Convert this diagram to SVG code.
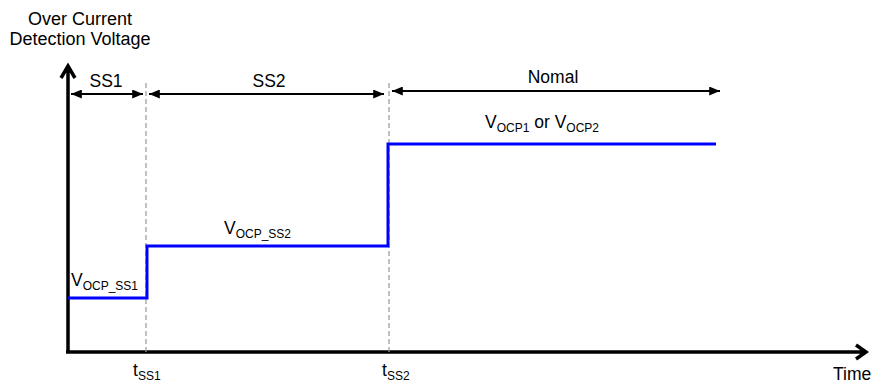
<svg xmlns="http://www.w3.org/2000/svg" width="874" height="383" viewBox="0 0 874 383">
<style>
text{font-family:"Liberation Sans",Arial,sans-serif;font-size:17.5px;fill:#000}
.sub{font-size:12px}
.ax{stroke:#000;stroke-width:3.5;fill:none}
.dash{stroke:#999;stroke-width:1.2;stroke-dasharray:5,3;fill:none}
.dim{stroke:#000;stroke-width:2;fill:none}
.sig{stroke:#0000ff;stroke-width:3;fill:none}
</style>
<defs>
<marker id="ah" viewBox="0 0 12 10" refX="12" refY="5" markerWidth="12" markerHeight="9" markerUnits="userSpaceOnUse" orient="auto-start-reverse">
<path d="M0,0 L12,5 L0,10 Z" fill="#000"/>
</marker>
</defs>
<rect width="874" height="383" fill="#fff"/>
<g id="axes">
<path class="ax" d="M68,353 V66 M61,78 L68,66 L75,78"/>
<path class="ax" d="M66,352 H866 M856,345 L866,352 L856,359"/>
</g>
<g id="guides">
<line class="dash" x1="146" y1="83" x2="146" y2="352"/>
<line class="dash" x1="389" y1="83" x2="389" y2="352"/>
</g>
<g id="connectors">
<line class="dim" x1="71" y1="94" x2="143" y2="94" marker-start="url(#ah)" marker-end="url(#ah)"/>
<line class="dim" x1="149" y1="94" x2="384" y2="94" marker-start="url(#ah)" marker-end="url(#ah)"/>
<line class="dim" x1="392" y1="91" x2="720" y2="91" marker-start="url(#ah)" marker-end="url(#ah)"/>
</g>
<g id="signal">
<path class="sig" d="M68,298 H147 V246 H388 V144 H716"/>
</g>
<g id="labels">
<text x="80" y="25" text-anchor="middle" style="font-size:18px">Over Current</text>
<text x="80" y="45" text-anchor="middle" style="font-size:18px">Detection Voltage</text>
<text x="106" y="87" text-anchor="middle">SS1</text>
<text x="269" y="87" text-anchor="middle">SS2</text>
<text x="553" y="83" text-anchor="middle">Nomal</text>
<text x="485" y="128">V<tspan class="sub" dy="4">OCP1</tspan><tspan dy="-4"> or V</tspan><tspan class="sub" dy="4">OCP2</tspan></text>
<text x="224" y="234">V<tspan class="sub" dy="4">OCP_SS2</tspan></text>
<text x="71" y="286">V<tspan class="sub" dy="4">OCP_SS1</tspan></text>
<text x="133" y="376">t<tspan class="sub" dy="4">SS1</tspan></text>
<text x="382" y="376">t<tspan class="sub" dy="4">SS2</tspan></text>
<text x="833" y="380">Time</text>
</g>
</svg>
